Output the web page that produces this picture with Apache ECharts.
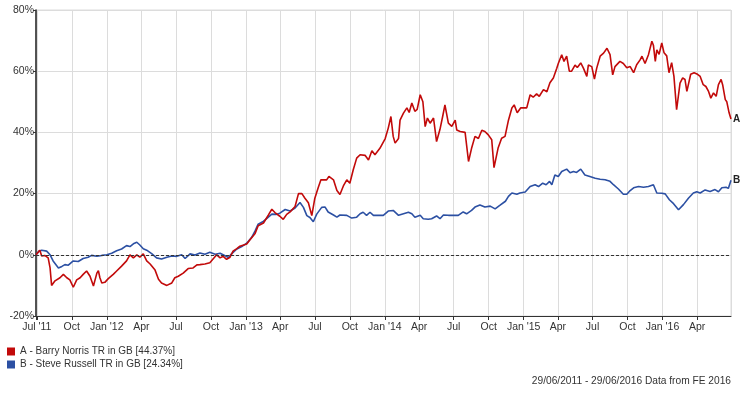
<!DOCTYPE html>
<html>
<head>
<meta charset="utf-8">
<script src="https://cdn.jsdelivr.net/npm/echarts@6/dist/echarts.min.js"></script>
<style>html,body{margin:0;padding:0;background:#fff;}#c{width:746px;height:393px;}</style>
</head>
<body>
<div id="c"></div>
<script>
var seriesNames = ['A - Barry Norris TR in GB [44.37%]', 'B - Steve Russell TR in GB [24.34%]'];
var endTags = ['A', 'B'];
var tickDates = ['2011-07-01','2011-10-01','2012-01-01','2012-04-01','2012-07-01','2012-10-01','2013-01-01','2013-04-01','2013-07-01','2013-10-01','2014-01-01','2014-04-01','2014-07-01','2014-10-01','2015-01-01','2015-04-01','2015-07-01','2015-10-01','2016-01-01','2016-04-01'];
var tickLabels = ["Jul '11","Oct","Jan '12","Apr","Jul","Oct","Jan '13","Apr","Jul","Oct","Jan '14","Apr","Jul","Oct","Jan '15","Apr","Jul","Oct","Jan '16","Apr"];
var yTicks = [-20, 0, 20, 40, 60, 80];

var datesA = ['2011-06-29','2011-07-09','2011-07-14','2011-07-22','2011-07-31','2011-08-05','2011-08-09','2011-08-18','2011-08-31','2011-09-09','2011-09-18','2011-09-26','2011-10-05','2011-10-14','2011-10-23','2011-10-31','2011-11-09','2011-11-18','2011-11-27','2011-12-06','2011-12-10','2011-12-14','2011-12-19','2011-12-27',
'2012-01-05','2012-01-18','2012-01-27','2012-02-09','2012-02-22','2012-03-02','2012-03-11','2012-03-20','2012-03-28','2012-04-06','2012-04-15','2012-04-24','2012-05-07','2012-05-16','2012-05-24','2012-06-07','2012-06-20','2012-06-28','2012-07-07','2012-07-20','2012-08-02','2012-08-15','2012-08-25','2012-09-02','2012-09-15','2012-09-28','2012-10-16','2012-10-25','2012-11-02','2012-11-11','2012-11-20','2012-11-28','2012-12-08','2012-12-16',
'2013-01-03','2013-01-12','2013-01-25','2013-02-02','2013-02-16','2013-03-01','2013-03-10','2013-03-18','2013-03-31','2013-04-09','2013-04-18','2013-04-27','2013-05-10','2013-05-19','2013-05-28','2013-06-05','2013-06-14','2013-06-23','2013-07-01','2013-07-10','2013-07-17','2013-08-01','2013-08-07','2013-08-19','2013-08-28','2013-09-05','2013-09-14','2013-09-23','2013-10-01','2013-10-10','2013-10-19','2013-10-28','2013-11-10','2013-11-19','2013-11-28','2013-12-06','2013-12-19',
'2014-01-02','2014-01-10','2014-01-17','2014-01-23','2014-01-28','2014-02-06','2014-02-10','2014-02-19','2014-02-28','2014-03-06','2014-03-13','2014-03-21','2014-03-27','2014-04-04','2014-04-11','2014-04-17','2014-04-23','2014-04-30','2014-05-09','2014-05-17','2014-05-26','2014-06-02','2014-06-08','2014-06-17','2014-06-26','2014-07-05','2014-07-09','2014-07-18','2014-07-31','2014-08-09','2014-08-17','2014-08-26','2014-09-04','2014-09-13','2014-09-21','2014-09-30','2014-10-09','2014-10-15','2014-10-20','2014-10-26','2014-11-04','2014-11-13','2014-11-22','2014-12-01','2014-12-07','2014-12-15','2014-12-24',
'2015-01-09','2015-01-18','2015-01-26','2015-02-04','2015-02-11','2015-02-22','2015-03-03','2015-03-11','2015-03-20','2015-03-29','2015-04-02','2015-04-11','2015-04-17','2015-04-24','2015-05-01','2015-05-07','2015-05-16','2015-05-22','2015-05-31','2015-06-07','2015-06-16','2015-06-20','2015-06-29','2015-07-06','2015-07-12','2015-07-21','2015-07-30','2015-08-08','2015-08-16','2015-08-23','2015-08-29','2015-09-11','2015-09-20','2015-09-29','2015-10-08','2015-10-17','2015-10-25','2015-11-03','2015-11-08','2015-11-16','2015-11-25','2015-12-04','2015-12-08','2015-12-13','2015-12-17','2015-12-23','2015-12-30',
'2016-01-05','2016-01-12','2016-01-18','2016-01-25','2016-01-31','2016-02-07','2016-02-12','2016-02-16','2016-02-23','2016-02-29','2016-03-05','2016-03-09','2016-03-15','2016-03-24','2016-04-02','2016-04-09','2016-04-17','2016-04-24','2016-05-01','2016-05-07','2016-05-14','2016-05-21','2016-05-27','2016-06-03','2016-06-07','2016-06-14','2016-06-18','2016-06-24','2016-06-29'];

var valuesA = [0,1.5,-0.4,-0.2,-1,-4.3,-10,-8.5,-7.5,-6.4,-7.5,-8.2,-10.6,-8.2,-7.5,-6.4,-5.3,-7,-10.2,-6,-5.2,-7.5,-9.2,-9,
-7.8,-6.4,-5.3,-3.7,-2,0,-1,0,-0.8,0.3,-2,-3,-5,-8,-9.2,-10,-9.2,-7.5,-7,-6,-4.5,-4.3,-3.3,-3.2,-3,-2.6,0,-1,-0.5,-1.5,-0.8,1.2,2,2.8,
3.5,5,7,9.5,10.4,13,14.9,13.8,12.6,11.6,13.2,14,15.8,20,20,18.5,17,12.8,18.5,22,24.5,24.5,25.6,24.5,21,19.7,22.5,24.5,23.4,27.8,31.6,32.7,32.5,31,34,32.7,34.8,
38,41.4,45.2,38.7,36.5,38,44,46.3,48,46.5,49.6,46.9,47.5,52.3,50,41.9,44.7,43,44.7,37,41,45.2,49,43,42,44,40.8,40.3,40,30.5,34.8,38.7,38,40.7,40.3,39.2,37.6,28.5,28.5,35,38.1,38.7,44,48,49,46.4,48,
48,52.3,51.5,52.6,51.8,54,53.3,56.2,57.8,61,62.5,65.4,63.2,64.9,60,60,62,61.2,62.7,61,58.3,62,61.5,57.4,61,64.9,65.9,67.5,65.4,58.8,61.5,63.2,62.5,61.1,61.5,59.5,62.1,63.7,64.9,62.5,65.4,69.8,68.5,63.2,67,65.5,69.2,
66,65,59.5,62.8,58.3,47.4,48,56.1,57.8,57.3,53.4,54,59,59.5,59,58.3,55.6,55,53.4,51.2,52.9,51.8,55.6,57.3,55.6,50.7,50,46.4,44.37];

var datesB = ['2011-06-29','2011-07-07','2011-07-14','2011-07-27','2011-08-05','2011-08-13','2011-08-27','2011-09-05','2011-09-13','2011-09-22','2011-10-05','2011-10-18','2011-10-31','2011-11-13','2011-11-22','2011-12-06','2011-12-19',
'2012-01-01','2012-01-14','2012-01-27','2012-02-09','2012-02-22','2012-03-02','2012-03-11','2012-03-20','2012-03-28','2012-04-06','2012-04-15','2012-04-28','2012-05-11','2012-05-24','2012-06-07','2012-06-20','2012-07-03','2012-07-16','2012-07-25','2012-08-07','2012-08-20','2012-09-02','2012-09-15','2012-09-28','2012-10-12','2012-10-25','2012-11-07','2012-11-16','2012-11-24','2012-12-08','2012-12-21',
'2013-01-03','2013-01-16','2013-01-25','2013-02-02','2013-02-14','2013-02-25','2013-03-10','2013-03-21','2013-03-31','2013-04-14','2013-04-27','2013-05-10','2013-05-23','2013-06-01','2013-06-10','2013-06-18','2013-06-27','2013-07-06','2013-07-19','2013-07-28','2013-08-05','2013-08-19','2013-08-28','2013-09-05','2013-09-23','2013-10-06','2013-10-19','2013-10-28','2013-11-05','2013-11-14','2013-11-23','2013-12-02','2013-12-15','2013-12-28',
'2014-01-10','2014-01-23','2014-02-06','2014-02-19','2014-03-04','2014-03-13','2014-03-21','2014-04-04','2014-04-12','2014-04-25','2014-05-04','2014-05-17','2014-05-26','2014-06-04','2014-06-17','2014-06-30','2014-07-13','2014-07-26','2014-08-04','2014-08-17','2014-08-26','2014-09-08','2014-09-21','2014-10-05','2014-10-18','2014-10-31','2014-11-14','2014-11-22','2014-12-01','2014-12-14','2014-12-22',
'2015-01-05','2015-01-18','2015-01-31','2015-02-09','2015-02-20','2015-03-01','2015-03-10','2015-03-16','2015-03-24','2015-04-02','2015-04-11','2015-04-24','2015-05-03','2015-05-12','2015-05-20','2015-05-31','2015-06-11','2015-06-24','2015-07-08','2015-07-21','2015-08-03','2015-08-16','2015-08-25','2015-09-07','2015-09-20','2015-09-29','2015-10-08','2015-10-17','2015-10-30','2015-11-12','2015-11-25','2015-12-08','2015-12-17','2015-12-30',
'2016-01-08','2016-01-19','2016-01-30','2016-02-12','2016-02-25','2016-03-09','2016-03-22','2016-03-31','2016-04-09','2016-04-22','2016-05-05','2016-05-18','2016-05-27','2016-06-05','2016-06-16','2016-06-22','2016-06-29'];

var valuesB = [0,1.2,1.5,1.2,0,-2,-4.3,-3.8,-3.2,-3.4,-2,-2.2,-1.2,-0.8,-0.2,-0.5,-0.2,
0,0.5,1.3,1.9,3,2.7,3.6,4.1,3.2,2,1.5,0.4,-1,-1.4,-0.8,-0.4,-0.5,0,-1.2,0.3,-0.1,0.6,0.2,0.8,0.2,0.5,-0.3,-0.9,0.3,1.9,2.7,
3.8,5.7,7.8,10,10.8,11.9,13.3,13.2,13.6,14.8,14.3,15.3,17.1,15.5,12.8,12.2,10.8,13.3,15.5,15.6,14,13,12.3,13,12.9,12,12.3,13.4,13.9,12.9,13.9,12.9,12.9,12.9,
14.3,14.5,12.9,13.4,13.9,13.4,12.3,12.9,11.8,11.6,11.8,12.7,11.8,13,12.9,12.9,12.9,14,13.4,14.5,15.6,16.3,15.6,15.9,15,16.2,17.5,19.1,20.2,19.8,20.2,
20.5,22.3,22.9,22.3,23.4,22.9,24,22.9,26.1,25.6,27.2,28,26.8,27.2,26.9,28,26.1,25.6,25,24.7,24.5,24,22.9,21.5,19.8,19.8,21,21.9,22.3,22.1,22.3,22.9,20.2,20.1,
19.9,18,16.7,14.7,16.4,18.5,20.2,20.6,20.2,21.2,20.7,21.3,20.6,21.9,22.1,21.7,24.34];

var colors = ['#c20a0a', '#2c50a3'];

function ts(s) { var p = s.split('-').map(Number); return new Date(p[0], p[1] - 1, p[2]).getTime(); }
function pairs(d, v) { return d.map(function (x, i) { return [ts(x), v[i]]; }); }
var labelMap = {};
tickDates.forEach(function (d, i) { labelMap[ts(d)] = tickLabels[i]; });
var DAY = 24 * 3600 * 1000;

var FONT = "'Liberation Sans', Arial, sans-serif";
var chart = echarts.init(document.getElementById('c'), null, { renderer: 'canvas' });
chart.setOption({
  animation: false,
  textStyle: { fontFamily: FONT },
  color: colors,
  grid: { left: 36, right: 15, top: 10, bottom: 77, show: true, borderColor: '#dcdcdc', borderWidth: 1, containLabel: false },
  legend: {
    orient: 'vertical', left: 7, top: 345, padding: 0, itemWidth: 8, itemHeight: 8, itemGap: 0, icon: 'rect',
    textStyle: { fontSize: 10, color: '#333', fontFamily: FONT, lineHeight: 13 },
    data: seriesNames
  },
  graphic: [{
    type: 'text', right: 15, top: 376,
    style: { text: '29/06/2011 - 29/06/2016 Data from FE 2016', font: '10.2px ' + FONT, fill: '#333' }
  }],
  xAxis: {
    type: 'time',
    min: ts(datesA[0]), max: ts(datesA[datesA.length - 1]),
    minInterval: 100 * DAY, maxInterval: 100 * DAY,
    axisLine: { show: true, onZero: false, lineStyle: { color: '#333', width: 1 } },
    axisTick: { show: true, length: 4, lineStyle: { color: '#333' } },
    axisLabel: {
      interval: 0, fontSize: 10.5, color: '#333', margin: 6, hideOverlap: false, showMinLabel: true, showMaxLabel: false,
      formatter: function (v) { return labelMap[v] !== undefined ? labelMap[v] : ''; }
    },
    splitLine: { show: true, lineStyle: { color: '#dcdcdc', width: 1 } }
  },
  yAxis: {
    type: 'value', min: yTicks[0], max: yTicks[yTicks.length - 1], interval: 20,
    axisLine: { show: true, lineStyle: { color: '#222', width: 1.5 } },
    axisTick: { show: true, length: 3, lineStyle: { color: '#333' } },
    axisLabel: { fontSize: 10.5, color: '#333', margin: 2, formatter: '{value}%' },
    splitLine: { show: true, lineStyle: { color: '#dcdcdc', width: 1 } }
  },
  series: [
    {
      name: seriesNames[0], type: 'line', data: pairs(datesA, valuesA), showSymbol: false, symbol: 'none',
      lineStyle: { width: 1.6, color: colors[0] }, itemStyle: { color: colors[0] }, z: 3,
      endLabel: { show: true, formatter: endTags[0], color: '#222', fontWeight: 'bold', fontSize: 10, distance: 2, fontFamily: FONT },
      markLine: {
        silent: true, symbol: 'none', label: { show: false },
        lineStyle: { color: '#333', type: [3, 2], width: 1 },
        data: [{ yAxis: 0 }]
      }
    },
    {
      name: seriesNames[1], type: 'line', data: pairs(datesB, valuesB), showSymbol: false, symbol: 'none',
      lineStyle: { width: 1.6, color: colors[1] }, itemStyle: { color: colors[1] }, z: 2,
      endLabel: { show: true, formatter: endTags[1], color: '#222', fontWeight: 'bold', fontSize: 10, distance: 2, fontFamily: FONT }
    }
  ]
});
</script>
</body>
</html>
